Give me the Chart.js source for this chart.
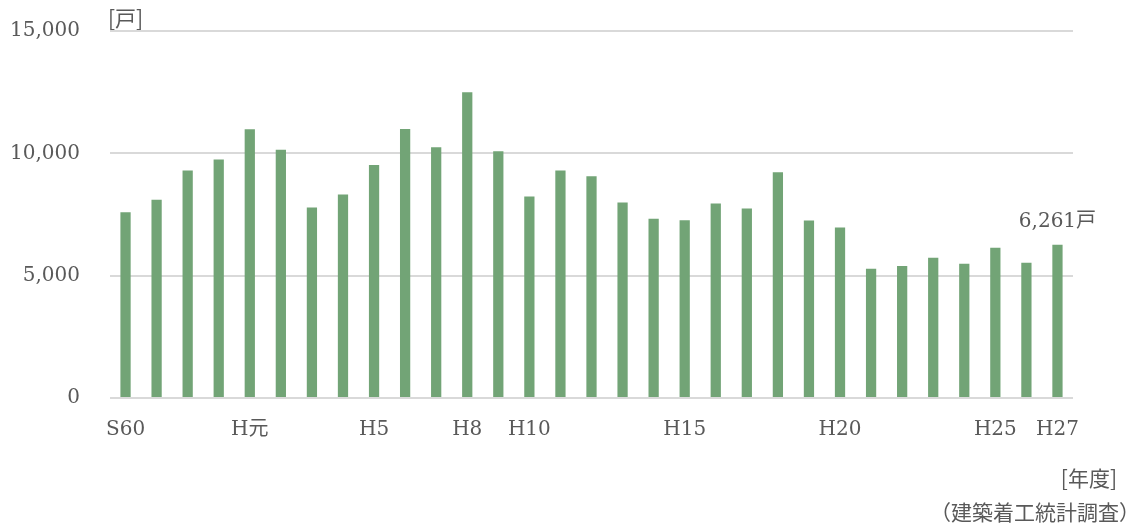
<!DOCTYPE html>
<html>
<head>
<meta charset="utf-8">
<script src="https://cdn.jsdelivr.net/npm/chart.js@4"></script>
<style>
  html, body { margin: 0; padding: 0; background: #fff; }
  #wrap { width: 1131px; height: 524px; }
</style>
</head>
<body>
<div id="wrap"><canvas id="myChart" width="1131" height="524"></canvas></div>
<script>
var years = ["S60", "S61", "S62", "S63", "H元", "H2", "H3", "H4", "H5", "H6", "H7", "H8", "H9", "H10",
    "H11", "H12", "H13", "H14", "H15", "H16", "H17", "H18", "H19", "H20", "H21", "H22", "H23", "H24",
    "H25", "H26", "H27"];
var tickLabels = ["S60", "", "", "", "H元", "", "", "", "H5", "", "", "H8", "", "H10",
    "", "", "", "", "H15", "", "", "", "", "H20", "", "", "", "",
    "H25", "", "H27"];
var starts = [7590, 8100, 9300, 9750, 10980, 10150, 7790, 8320, 9520, 10990, 10250, 12500, 10090, 8240,
    9300, 9060, 7990, 7330, 7260, 7950, 7750, 9230, 7250, 6970, 5280, 5400, 5730, 5490,
    6140, 5530, 6261];
var yTicks = [0, 5000, 10000, 15000];

var textColor = "#595959";
var serif = "'DejaVu Serif', 'Noto Sans CJK JP', serif";
var gothic = "'Noto Sans CJK JP', sans-serif";

// extra texts: unit labels, source, value label on the last bar
var notes = {
    id: "notes",
    afterDatasetsDraw(chart) {
        var ctx = chart.ctx;
        ctx.save();
        ctx.fillStyle = textColor;
        ctx.textBaseline = "middle";

        ctx.font = "21px " + gothic;
        ctx.textAlign = "left";
        ctx.fillText("[戸]", 108, 18);

        ctx.textAlign = "right";
        ctx.fillText("[年度]", 1117, 478);
        ctx.fillText("（建築着工統計調査）", 1140, 512);

        var bars = chart.getDatasetMeta(0).data;
        var last = bars[bars.length - 1];
        var v = starts[starts.length - 1];
        ctx.textAlign = "center";
        ctx.textBaseline = "bottom";
        ctx.font = "20px " + serif;
        ctx.fillText(v.toLocaleString("en-US") + "戸", last.x, last.y - 13);
        ctx.restore();
    }
};

new Chart("myChart", {
    type: "bar",
    data: {
        labels: years,
        datasets: [
            {
                data: starts,
                backgroundColor: "#72a476",
                barPercentage: 0.33,
                categoryPercentage: 1.0,
            },
        ],
    },
    options: {
        responsive: false,
        animation: false,
        layout: {
            padding: { left: 0, right: 58, top: 31, bottom: 70 },
        },
        scales: {
            x: {
                grid: { display: false },
                border: { display: false },
                ticks: {
                    autoSkip: false,
                    maxRotation: 0,
                    padding: 12,
                    color: textColor,
                    font: { family: serif, size: 20 },
                    callback: function (value, index) {
                        return tickLabels[index];
                    },
                },
            },
            y: {
                min: 0,
                max: 15000,
                afterFit: function (axis) {
                    axis.width = 110;
                    axis.paddingTop = 0;
                    axis.paddingBottom = 0;
                },
                afterBuildTicks: function (axis) {
                    axis.ticks = yTicks.map(v => ({ value: v }));
                },
                grid: {
                    color: "#d9d9d9",
                    lineWidth: 2,
                    drawTicks: false,
                },
                border: { display: false },
                ticks: {
                    padding: 30,
                    color: textColor,
                    font: { family: serif, size: 20 },
                    callback: function (value) {
                        return value.toLocaleString("en-US");
                    },
                },
            },
        },
        plugins: {
            legend: { display: false },
            tooltip: { enabled: false },
        },
    },
    plugins: [notes],
});
</script>
</body>
</html>
